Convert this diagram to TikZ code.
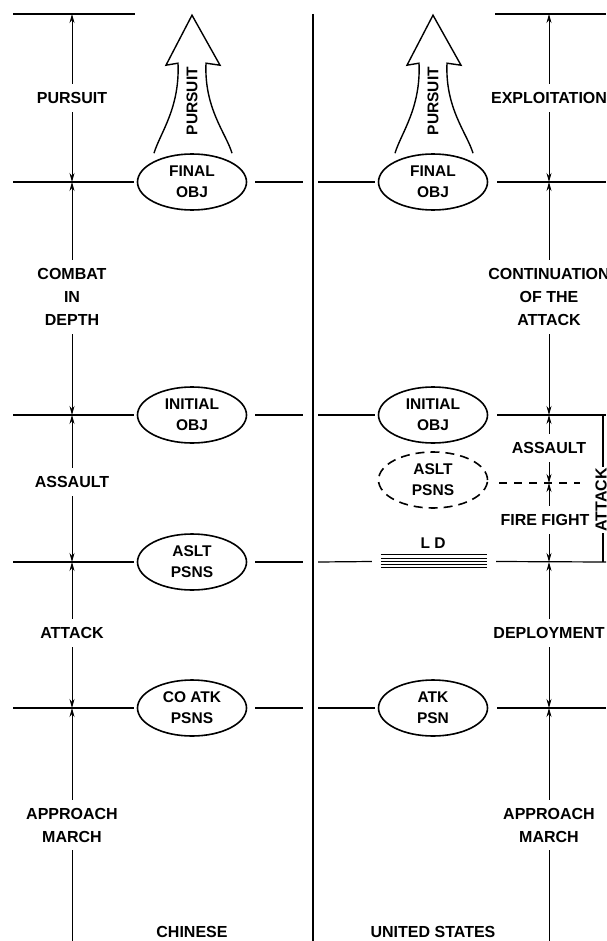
\documentclass[tikz,border=0pt]{standalone}
\usepackage{fontspec}
\setsansfont{Liberation Sans}
\usetikzlibrary{shapes.geometric,arrows.meta}
\newcommand{\phasefont}{\sffamily\bfseries\fontsize{16}{23}\selectfont}
\newcommand{\objfont}{\sffamily\bfseries\fontsize{15.5}{21}\selectfont}

\begin{document}
\begin{tikzpicture}
        [x=1pt,y=-1pt,
        objdecorate/.style={shape=ellipse,draw,line width=1.6pt,minimum width=109pt,
          minimum height=56pt,inner sep=0pt,align=center,font=\objfont},%
        phasedecorate/.style={fill=white,inner xsep=2pt,inner ysep=8pt,align=center,font=\phasefont},%
        dimdecorate/.style={{Stealth[length=9pt,width=5pt]}-{Stealth[length=9pt,width=5pt]},line width=0.8pt},%
        leveldecorate/.style={line width=1.2pt}]
        \useasboundingbox (0,0) rectangle (606,941);
        %% objective nodes
        \foreach \nodename/\x/\y/\txt in {cfin/192/182/{FINAL\\OBJ}, cini/192/415/{INITIAL\\OBJ},
          caslt/192/562/{ASLT\\PSNS}, catk/192/708/{CO ATK\\PSNS},
          ufin/433/182/{FINAL\\OBJ}, uini/433/415/{INITIAL\\OBJ}, uatk/433/708/{ATK\\PSN}}
        {
          \node (\nodename) at (\x,\y) [objdecorate] {\txt};
        }
        \node (uaslt) at (433,480) [objdecorate,dash pattern=on 9pt off 6pt] {ASLT\\PSNS};
        \node (ldbar) at (434,561.5) [minimum width=106pt,minimum height=13pt,inner sep=0pt] {};
        \node (ldtxt) at (433,543) [font=\objfont] {L D};
        \foreach \k in {0,...,4}
        {
          \draw[line width=0.7pt] ([yshift=-\k*3.2pt]ldbar.north west) -- ([yshift=-\k*3.2pt]ldbar.north east);
        }
        %% level lines
        \coordinate (ctopl) at (13,14);
        \coordinate (ctopr) at (135,14);
        \coordinate (utopl) at (495,14);
        \coordinate (utopr) at (606,14);
        \draw[leveldecorate] (ctopl) -- (ctopr);
        \draw[leveldecorate] (utopl) -- (utopr);
        \foreach \nodename/\y in {cfin/182, cini/415, caslt/562, catk/708}
        {
          \coordinate (\nodename-l) at (13,\y);
          \coordinate (\nodename-r) at (303,\y);
          \draw[leveldecorate] (\nodename-l) -- ([xshift=-3pt]\nodename.west);
          \draw[leveldecorate] ([xshift=8pt]\nodename.east) -- (\nodename-r);
        }
        \foreach \nodename/\y/\gap in {ufin/182/3, uini/415/3, ldbar/562/9, uatk/708/3}
        {
          \coordinate (\nodename-l) at (318,\y);
          \coordinate (\nodename-r) at (606,\y);
          \draw[leveldecorate] (\nodename-l) -- ([xshift=-\gap pt]\nodename.west);
          \draw[leveldecorate] ([xshift=9pt]\nodename.east) -- (\nodename-r);
        }
        \coordinate (uaslt-r) at (580,483);
        \draw[leveldecorate,dash pattern=on 8pt off 7pt] ([xshift=11pt,yshift=-3pt]uaslt.east) -- (uaslt-r);
        %% centre divider
        \coordinate (divtop) at (313,14);
        \coordinate (divbot) at (313,941);
        \draw[line width=2pt] (divtop) -- (divbot);
        %% pursuit arrows
        \foreach \nodename in {cfin, ufin}
        {
          \draw[line width=1.4pt,line join=miter]
            ([xshift=-38pt]\nodename.north) .. controls +(6,-20) and +(2,45) ..
            ([xshift=-14pt,yshift=90pt]\nodename.north) -- ([xshift=-26pt,yshift=88pt]\nodename.north) --
            ([yshift=138pt]\nodename.north) -- ([xshift=28pt,yshift=88pt]\nodename.north) --
            ([xshift=14pt,yshift=90pt]\nodename.north) .. controls +(-2,45) and +(-6,-20) ..
            ([xshift=40pt]\nodename.north);
          \node at ([yshift=52pt]\nodename.north) [rotate=90,font=\objfont] {PURSUIT};
        }
        %% dimension lines
        \foreach \nodename/\y in {c0/14, c1/182, c2/415, c3/562, c4/708, c5/941}
        {
          \coordinate (\nodename) at (72,\y);
        }
        \foreach \nodename/\y in {u0/14, u1/182, u2/415, u3/483, u4/562, u5/708, u6/941}
        {
          \coordinate (\nodename) at (549,\y);
        }
        \path
        \foreach \startnode/\endnode in {c0/c1, c1/c2, c2/c3, c3/c4, u0/u1, u1/u2, u2/u3, u3/u4, u4/u5}
        {
          (\startnode) edge[dimdecorate] (\endnode)
        };
        \draw[{Stealth[length=9pt,width=5pt]}-,line width=0.8pt] (c4) -- (c5);
        \draw[{Stealth[length=9pt,width=5pt]}-,line width=0.8pt] (u5) -- (u6);
        %% attack bracket
        \coordinate (atktop) at (603,415);
        \coordinate (atkbot) at (603,562);
        \draw[leveldecorate] (atktop) -- (atkbot);
        \node (atk) at (601,500) [rotate=90,fill=white,inner sep=1pt,font=\phasefont] {ATTACK};
        %% phase labels
        \foreach \nodename/\x/\y/\txt in {pursuit/72/98/{PURSUIT}, depth/72/297/{COMBAT\\IN\\DEPTH},
          cassault/72/482/{ASSAULT}, cattack/72/633/{ATTACK}, capproach/72/825/{APPROACH\\MARCH},
          exploit/549/98/{EXPLOITATION}, contin/549/297/{CONTINUATION\\OF THE\\ATTACK},
          uassault/549/448/{ASSAULT}, fire/545/520/{FIRE FIGHT}, deploy/549/633/{DEPLOYMENT},
          uapproach/549/825/{APPROACH\\MARCH}}
        {
          \node (\nodename) at (\x,\y) [phasedecorate] {\txt};
        }
        \node (chinese) at (192,932) [font=\phasefont] {CHINESE};
        \node (unitedstates) at (433,932) [font=\phasefont] {UNITED STATES};
      \end{tikzpicture}
\end{document}
